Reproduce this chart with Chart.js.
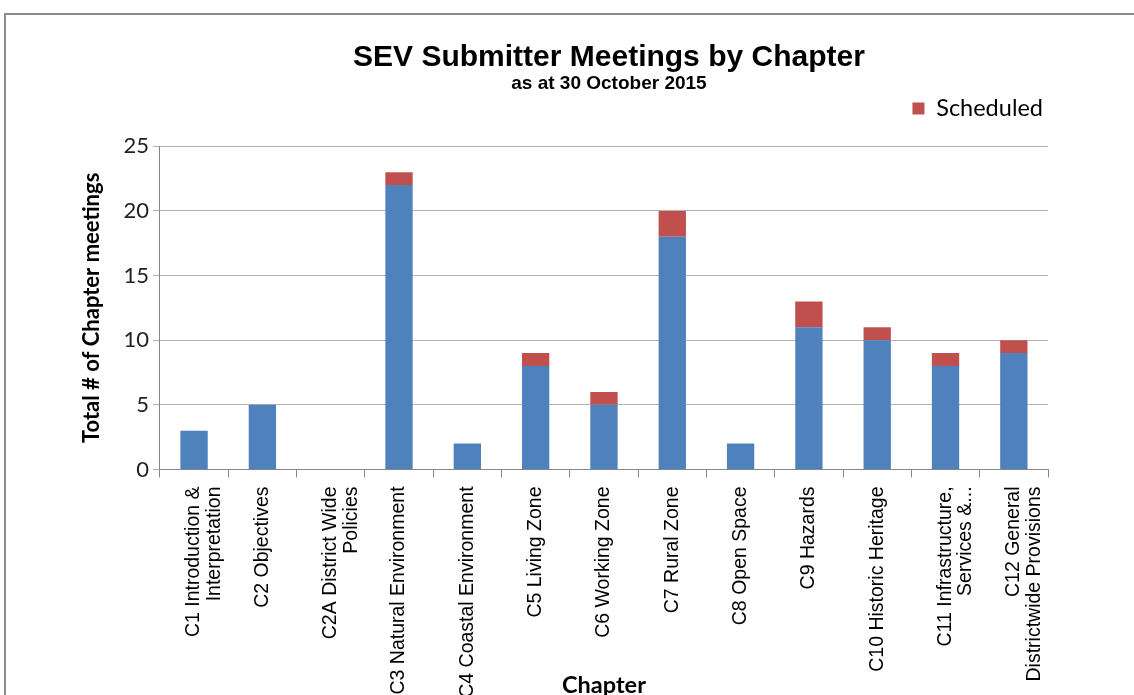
<!DOCTYPE html>
<html>
<head>
<meta charset="utf-8">
<script src="https://cdn.jsdelivr.net/npm/chart.js@4.4.1/dist/chart.umd.min.js"></script>
<style>
  html, body { margin: 0; padding: 0; background: #fff; overflow: hidden; }
  body { width: 1134px; height: 695px; position: relative; }
  #frame { position: absolute; left: 4px; top: 13px; width: 2000px; height: 2000px;
           border-top: 2px solid #8c8c8c; border-left: 2px solid #8c8c8c; }
  #wrap { position: absolute; left: 0; top: 0; width: 1134px; height: 700px; }
</style>
</head>
<body>
<div id="frame"></div>
<div id="wrap"><canvas id="c"></canvas></div>
<script>
const categories = [
  ['C1 Introduction &', 'Interpretation'],
  'C2 Objectives',
  ['C2A District Wide', 'Policies'],
  'C3 Natural Environment',
  'C4 Coastal Environment',
  'C5 Living Zone',
  'C6 Working Zone',
  'C7 Rural Zone',
  'C8 Open Space',
  'C9 Hazards',
  'C10 Historic Heritage',
  ['C11 Infrastructure,', 'Services &...'],
  ['C12 General', 'Districtwide Provisions']
];
const heldMeetings      = [3, 5, 0, 22, 2, 8, 5, 18, 2, 11, 10, 8, 9];
const scheduledMeetings = [0, 0, 0, 1, 0, 1, 1, 2, 0, 2, 1, 1, 1];
const yTicks = [0, 5, 10, 15, 20, 25];

// extra space under the legend (Excel leaves a gap before the plot)
const legendGap = {
  id: 'legendGap',
  beforeInit(chart) {
    const origFit = chart.legend.fit;
    chart.legend.fit = function () {
      origFit.call(this);
      this.height += 16;
    };
  }
};
// centre the title and subtitle over the plot area rather than the whole canvas
const centerTitles = {
  id: 'centerTitles',
  afterLayout(chart) {
    const a = chart.chartArea;
    chart.boxes.forEach(b => {
      if (b.options && typeof b.options.text === 'string' && b.position === 'top' && !b.legendItems) {
        b.left = a.left; b.right = a.right + 10; b.width = b.right - b.left;
      }
    });
  }
};

new Chart(document.getElementById('c'), {
  type: 'bar',
  data: {
    labels: categories,
    datasets: [
      { label: 'Held', data: heldMeetings, backgroundColor: '#4f81bd',
        categoryPercentage: 1, barPercentage: 0.4 },
      { label: 'Scheduled', data: scheduledMeetings, backgroundColor: '#c0504d',
        categoryPercentage: 1, barPercentage: 0.4 }
    ]
  },
  plugins: [legendGap, centerTitles],
  options: {
    responsive: true,
    maintainAspectRatio: false,
    animation: false,
    layout: { padding: { left: 79, right: 86, top: 0, bottom: 0 } },
    plugins: {
      title: {
        display: true,
        text: 'SEV Submitter Meetings by Chapter',
        color: '#000',
        font: { family: "'Liberation Sans', Arial", size: 30, weight: 'bold' },
        padding: { top: 40, bottom: -4 }
      },
      subtitle: {
        display: true,
        text: 'as at 30 October 2015',
        color: '#000',
        font: { family: "'Liberation Sans', Arial", size: 19, weight: 'bold' },
        padding: { top: 0, bottom: -3 }
      },
      legend: {
        position: 'top',
        align: 'end',
        labels: {
          filter: (item) => item.text === 'Scheduled',
          boxWidth: 12, boxHeight: 12, padding: 5,
          color: '#000',
          font: { family: "Lato", size: 23.5 }
        }
      },
      tooltip: { enabled: false }
    },
    scales: {
      x: {
        stacked: true,
        offset: true,
        grid: { display: true, drawOnChartArea: false, offset: true, color: '#868686', tickLength: 8 },
        border: { color: '#868686', width: 1 },
        ticks: {
          autoSkip: false, minRotation: 90, maxRotation: 90,
          color: '#000', padding: 9,
          font: { family: "'Liberation Sans', Arial", size: 19.5, lineHeight: 1.05 }
        },
        title: {
          display: true, text: 'Chapter', color: '#000',
          font: { family: 'Lato', size: 23.5, weight: 'bold' },
          padding: { top: -35, bottom: 0 }
        }
      },
      y: {
        stacked: true,
        min: 0, max: 25,
        afterBuildTicks: (axis) => { axis.ticks = yTicks.map(v => ({ value: v })); },
        grid: { color: '#b3b3b3', tickLength: 7 },
        border: { color: '#868686', width: 1 },
        ticks: { color: '#222', padding: 4, font: { family: 'Lato', size: 22 } },
        title: {
          display: true, text: 'Total # of Chapter meetings', color: '#000',
          font: { family: 'Lato', size: 22, weight: 'bold' },
          padding: { top: 0, bottom: 14 }
        }
      }
    }
  }
});
</script>
</body>
</html>
